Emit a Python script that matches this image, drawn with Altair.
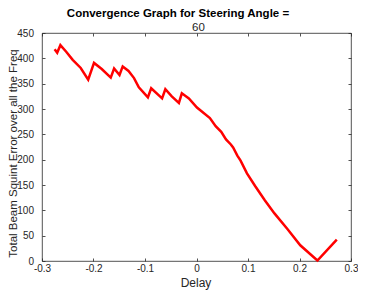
import altair as alt
import pandas as pd

delay = [-0.2755, -0.2705, -0.2643, -0.253, -0.2404, -0.2248, -0.2103, -0.199, -0.184,
         -0.1665, -0.160, -0.1495, -0.1433, -0.132, -0.1213, -0.112, -0.0944, -0.088,
         -0.0668, -0.0605, -0.048, -0.0342, -0.0285, -0.0148, 0.0009, 0.026, 0.0372,
         0.048, 0.0573, 0.0667, 0.0711, 0.0793, 0.0856, 0.098, 0.1138, 0.1326, 0.1514,
         0.1765, 0.2015, 0.2348, 0.2724]
error = [418, 411, 426, 413, 397, 381, 358, 391, 379, 362, 380, 367, 384, 375, 361, 343,
         323, 341, 321, 339, 325, 312, 331, 321, 303, 282, 266, 255, 240, 230, 224, 208,
         198, 173, 148, 120, 94, 63, 31, 1, 42]

x_ticks = [-0.3, -0.2, -0.1, 0, 0.1, 0.2, 0.3]
y_ticks = [0, 50, 100, 150, 200, 250, 300, 350, 400, 450]

title_line1 = "Convergence Graph for Steering Angle ="
title_line2 = "60"
x_title = "Delay"
y_title = "Total Beam Squint Error over all the Freq"

df = pd.DataFrame({"delay": delay, "error": error})

AX = "#262626"
FONT = "Liberation Sans"
W, H = 309, 228
xs = alt.Scale(domain=[-0.3, 0.3], nice=False, zero=False)
ys = alt.Scale(domain=[0, 450], nice=False, zero=False)

common = dict(domain=False, grid=False, tickColor=AX, tickSize=3, tickWidth=0.8,
              offset=-3, labelFont=FONT, labelFontSize=10, labelColor=AX,
              titleFont=FONT, titleColor=AX, titleFontWeight="normal")

main = alt.Chart(df).mark_line(color="#ff0000", strokeWidth=2.5).encode(
    x=alt.X("delay:Q", scale=xs,
            axis=alt.Axis(orient="bottom", values=x_ticks,
                          labelExpr="toString(round(datum.value*10)/10)",
                          labelPadding=2.5, title=x_title, titleFontSize=12,
                          titleX=153.5, titleY=28, titleBaseline="alphabetic",
                          labelFlush=False, **common)),
    y=alt.Y("error:Q", scale=ys,
            axis=alt.Axis(orient="left", values=y_ticks, labelPadding=8.5,
                          title=y_title, titleFontSize=11.5, titleX=-28.7, titleY=120,
                          titleAngle=-90, titleBaseline="alphabetic",
                          labelFlush=False, **common)),
)

frame = alt.Chart(df).mark_line(strokeOpacity=0).encode(
    x=alt.X("delay:Q", scale=xs,
            axis=alt.Axis(orient="top", values=x_ticks, labels=False,
                          title=title_line2, titleFontSize=11.5,
                          titleX=156, titleY=-6, titleBaseline="alphabetic",
                          **common)),
    y=alt.Y("error:Q", scale=ys,
            axis=alt.Axis(orient="right", values=y_ticks, labels=False, title=None,
                          **common)),
)

chart = alt.layer(main, frame).resolve_axis(x="independent", y="independent").properties(
    width=W, height=H,
    autosize=alt.AutoSizeParams(type="none"),
    padding={"left": 34, "top": 25, "right": 7, "bottom": 29},
    title=alt.TitleParams(text=title_line1, font=FONT, fontSize=11.5, fontWeight="bold",
                          color="#000000", anchor="middle", dx=-18.5, dy=9, offset=2,
                          baseline="alphabetic"),
).configure_view(stroke=AX, strokeWidth=0.8)

chart.save("out.html", embed_options={"renderer": "svg", "actions": False})
